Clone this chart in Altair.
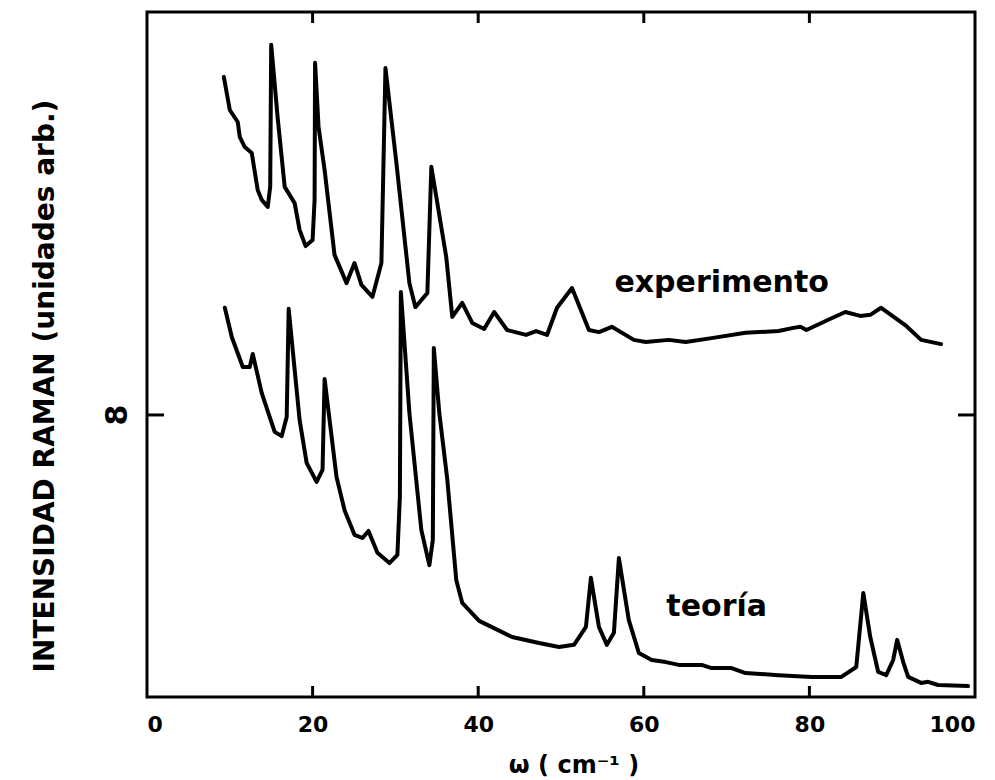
import altair as alt
import pandas as pd

# ---- data (omega in cm^-1, intensity in arbitrary units) ----
omega_exp = [9.28, 10.00, 10.96, 11.20, 11.81, 12.65, 13.37, 13.86, 14.58, 14.88, 15.00, 15.78,
             16.63, 17.83, 18.43, 19.16, 20.00, 20.24, 20.30, 20.72, 21.45, 22.65, 24.10, 25.06,
             25.90, 27.23, 28.31, 28.80, 30.12, 31.69, 32.41, 33.86, 34.34, 36.14, 36.87, 38.07,
             39.28, 40.72, 41.93, 43.49, 45.78, 46.99, 48.31, 49.52, 51.33, 53.37, 54.58, 56.14,
             58.80, 60.24, 63.01, 65.06, 68.19, 72.29, 76.27, 78.07, 78.92, 79.64, 82.29, 84.34,
             86.14, 87.35, 88.67, 91.57, 93.49, 95.90]
int_exp = [17.59, 16.65, 16.31, 15.89, 15.60, 15.43, 14.38, 14.10, 13.90, 14.47, 18.50, 16.43,
           14.47, 14.01, 13.25, 12.79, 12.96, 14.10, 17.99, 16.17, 14.95, 12.54, 11.74, 12.31,
           11.69, 11.35, 12.31, 17.84, 15.15, 11.74, 11.06, 11.46, 15.04, 12.48, 10.78, 11.18,
           10.61, 10.44, 10.92, 10.41, 10.27, 10.38, 10.27, 11.04, 11.60, 10.41, 10.35, 10.50,
           10.13, 10.07, 10.13, 10.07, 10.18, 10.33, 10.38, 10.47, 10.50, 10.41, 10.70, 10.92,
           10.81, 10.84, 11.04, 10.55, 10.13, 10.01]

omega_teo = [9.40, 10.24, 11.57, 12.41, 12.77, 13.86, 15.42, 16.27, 16.87, 17.11, 18.43, 19.28,
             20.48, 21.20, 21.45, 22.05, 22.89, 23.86, 25.06, 26.02, 26.75, 27.83, 29.28, 30.24,
             30.54, 30.66, 31.69, 33.13, 34.10, 34.52, 34.64, 35.30, 36.27, 37.35, 38.07, 40.12,
             44.10, 47.35, 49.76, 51.57, 53.01, 53.61, 54.58, 55.54, 56.39, 56.99, 58.19, 59.40,
             60.96, 62.65, 64.22, 66.99, 68.19, 70.60, 72.29, 76.27, 80.24, 83.86, 85.66, 86.51,
             87.35, 88.31, 89.28, 90.12, 90.60, 91.33, 91.93, 93.49, 94.34, 95.54, 99.16]
int_teo = [11.04, 10.21, 9.36, 9.36, 9.73, 8.62, 7.52, 7.40, 7.94, 11.01, 7.86, 6.64,
           6.10, 6.44, 9.02, 7.86, 6.24, 5.30, 4.60, 4.51, 4.71, 4.09, 3.80, 4.03,
           5.67, 11.49, 8.06, 4.74, 3.74, 4.45, 9.90, 8.06, 6.16, 3.32, 2.67, 2.16,
           1.70, 1.53, 1.42, 1.48, 1.99, 3.38, 1.99, 1.48, 1.82, 3.94, 2.18, 1.25,
           1.05, 0.99, 0.91, 0.91, 0.82, 0.82, 0.68, 0.62, 0.57, 0.57, 0.85, 2.95,
           1.70, 0.71, 0.62, 1.05, 1.62, 0.99, 0.57, 0.40, 0.43, 0.34, 0.31]

x_tick_values = [0, 20, 40, 60, 80, 100]
inner_x_ticks = [20, 40, 60, 80]
y_tick_values = [8]
y_tick_labels = ["8"]

series_names = ["experimento", "teoría"]
label_pos_omega = [69.4, 68.8]
label_pos_int = [11.74, 2.55]

x_title = "ω  ( cm⁻¹ )"
y_title = "INTENSIDAD  RAMAN  (unidades arb.)"

# ---- layout ----
W, H = 828, 685
Y_MAX = 19.43
FONT = "DejaVu Sans"

df = pd.concat([
    pd.DataFrame({"omega": omega_exp, "intensidad": int_exp, "serie": series_names[0],
                  "idx": range(len(omega_exp))}),
    pd.DataFrame({"omega": omega_teo, "intensidad": int_teo, "serie": series_names[1],
                  "idx": range(len(omega_teo))}),
])

xs = alt.Scale(domain=[0, 100], nice=False)
ys = alt.Scale(domain=[0, Y_MAX], nice=False)

x_axis = alt.Axis(
    values=x_tick_values, title=None, ticks=False, domain=False, grid=False,
    labelFont=FONT, labelFontSize=22, labelFontWeight="bold", labelColor="black",
    labelPadding=17, labelFlush=True)

lines = alt.Chart(df).mark_line(
    color="black", strokeWidth=4, strokeJoin="round", strokeCap="round"
).encode(
    x=alt.X("omega:Q", scale=xs, axis=x_axis),
    y=alt.Y("intensidad:Q", scale=ys, axis=None),
    detail="serie:N",
    order="idx:Q",
)

tick_df = pd.DataFrame({"t": inner_x_ticks})
bottom_ticks = alt.Chart(tick_df).mark_rule(color="black", strokeWidth=3).encode(
    x=alt.X("t:Q", scale=xs, axis=x_axis), y=alt.value(H), y2=alt.value(H - 11))
top_ticks = alt.Chart(tick_df).mark_rule(color="black", strokeWidth=3).encode(
    x=alt.X("t:Q", scale=xs, axis=x_axis), y=alt.value(0), y2=alt.value(11))

ytick_df = pd.DataFrame({"v": y_tick_values, "lab": y_tick_labels})
left_ticks = alt.Chart(ytick_df).mark_rule(color="black", strokeWidth=3).encode(
    y=alt.Y("v:Q", scale=ys, axis=None), x=alt.value(0), x2=alt.value(17))
right_ticks = alt.Chart(ytick_df).mark_rule(color="black", strokeWidth=3).encode(
    y=alt.Y("v:Q", scale=ys, axis=None), x=alt.value(W - 17), x2=alt.value(W))
ytick_labels = alt.Chart(ytick_df).mark_text(
    font=FONT, fontSize=30, fontWeight="bold", angle=270, color="black",
    align="center", baseline="middle"
).encode(y=alt.Y("v:Q", scale=ys, axis=None), x=alt.value(-29), text="lab:N")

lab_df = pd.DataFrame({"x": label_pos_omega, "y": label_pos_int, "txt": series_names})
series_labels = alt.Chart(lab_df).mark_text(
    font=FONT, fontSize=30, fontWeight="bold", color="black", align="center", baseline="middle"
).encode(x=alt.X("x:Q", scale=xs, axis=x_axis), y=alt.Y("y:Q", scale=ys, axis=None),
         text="txt:N")

xt = alt.Chart(pd.DataFrame({"txt": [x_title]})).mark_text(
    font=FONT, fontSize=24, fontWeight="bold", color="black", align="center", baseline="middle"
).encode(x=alt.value(427), y=alt.value(754), text="txt:N")

yt = alt.Chart(pd.DataFrame({"txt": [y_title]})).mark_text(
    font=FONT, fontSize=28, fontWeight="bold", color="black", angle=270,
    align="center", baseline="middle"
).encode(x=alt.value(-101), y=alt.value(374), text="txt:N")

chart = alt.layer(
    lines, bottom_ticks, top_ticks, left_ticks, right_ticks, ytick_labels,
    series_labels, xt, yt
).properties(
    width=W, height=H,
    padding={"left": 147, "top": 12, "right": 20, "bottom": 83},
    autosize=alt.AutoSizeParams(type="none"),
    background="white",
).configure_view(stroke="black", strokeWidth=3)

chart.save("out.html", embed_options={"renderer": "svg", "actions": False})
